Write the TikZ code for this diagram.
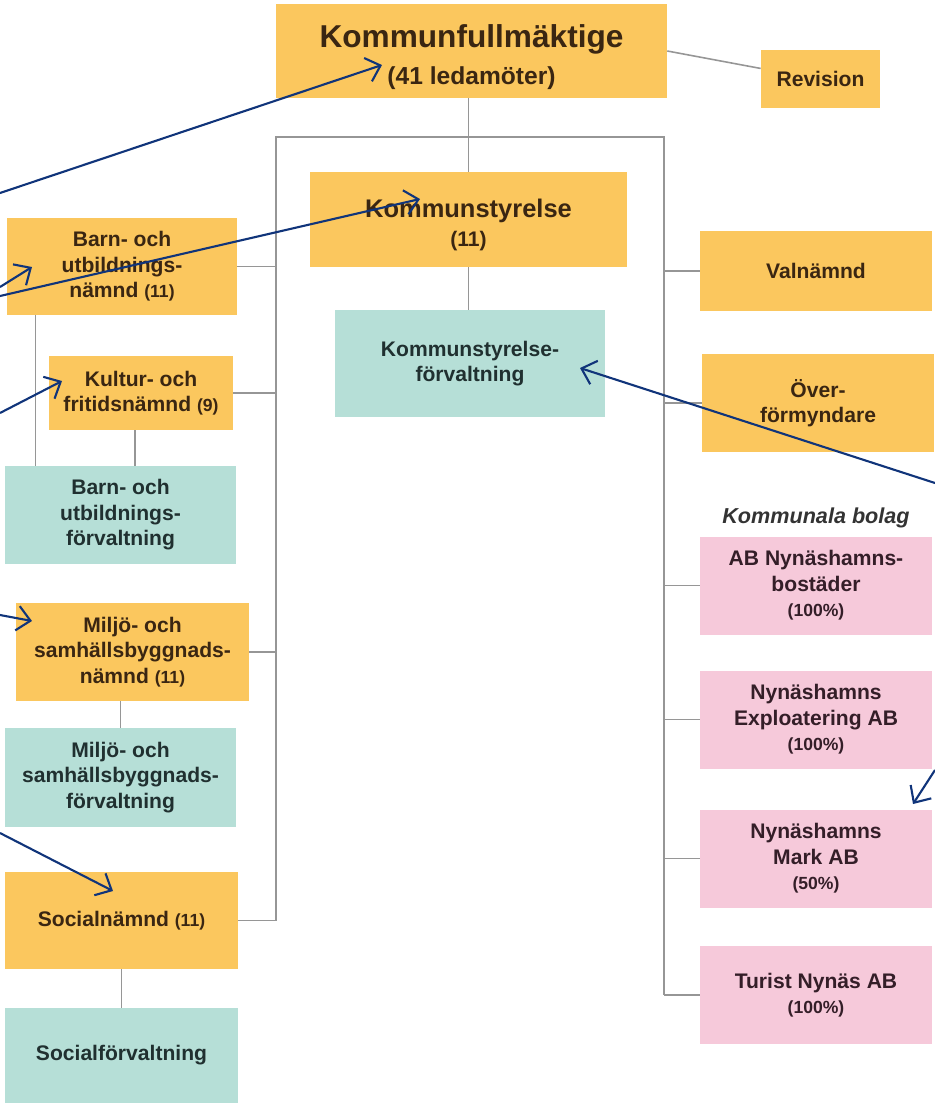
\documentclass[tikz,border=0pt]{standalone}
\usepackage{fontspec}
\setmainfont{Liberation Sans}
\usetikzlibrary{arrows.meta}
\usetikzlibrary{calc}

\definecolor{orgbox}{RGB}{251,199,94}
\definecolor{tealbox}{RGB}{182,223,215}
\definecolor{pinkbox}{RGB}{246,201,218}
\definecolor{orgtext}{RGB}{58,38,18}
\definecolor{tealtext}{RGB}{32,48,48}
\definecolor{pinktext}{RGB}{52,30,40}
\definecolor{linegray}{RGB}{150,150,150}
\definecolor{navy}{RGB}{16,52,122}

\newcommand{\antal}[1]{{\fontsize{10}{12}\selectfont(#1)}}

\begin{document}
\begin{tikzpicture}[x=0.02cm,y=-0.02cm,
        box/.style={inner sep=0pt,align=center,font=\fontsize{12}{14.5}\selectfont\bfseries},
        namnd/.style={box,fill=orgbox,text=orgtext},
        forv/.style={box,fill=tealbox,text=tealtext},
        bolag/.style={box,fill=pinkbox,text=pinktext,minimum width=4.64cm,minimum height=1.96cm},
        orgline/.style={draw=linegray,line width=0.9pt},
        pil/.style={draw=navy,line width=1.2pt,-{Straight Barb[length=7.5pt,width=14pt]}}]
                \useasboundingbox (0,0) rectangle (935,1103);

                \node[namnd,minimum width=7.82cm,minimum height=1.88cm] (kf) at (471.5,51)
                    {\rule{0pt}{20pt}{\fontsize{18}{22}\selectfont Kommunfullmäktige}\\[7pt]{\fontsize{14}{17}\selectfont (41 ledamöter)}};
                \node[namnd,minimum width=2.38cm,minimum height=1.16cm] (rev) at (820.5,79) {Revision};

                \node[namnd,minimum width=6.34cm,minimum height=1.9cm] (ks) at (468.5,219.5)
                    {\rule{0pt}{17pt}{\fontsize{14.5}{17}\selectfont Kommunstyrelse}\\[2pt]{\fontsize{12}{14}\selectfont (11)}};
                \node[forv,minimum width=5.4cm,minimum height=2.14cm] (ksf) at (470,363.5) {Kommunstyrelse-\\förvaltning};

                \node[namnd,minimum width=4.64cm,minimum height=1.6cm] (val) at (816,271) {Valnämnd};
                \node[namnd,minimum width=4.64cm,minimum height=1.98cm] (overf) at (818,403) {Över-\\förmyndare};

                \node[font=\fontsize{12.3}{14}\selectfont\bfseries\itshape,text=black!80] (bolagrubrik) at (816,518) {Kommunala bolag};
                \node[bolag] (abnb) at (816,585.5) {AB Nynäshamns-\\bostäder\\\antal{100\%}};
                \node[bolag] (expl) at (816,719.5) {Nynäshamns\\Exploatering AB\\\antal{100\%}};
                \node[bolag] (mark) at (816,858.5) {Nynäshamns\\Mark AB\\\antal{50\%}};
                \node[bolag] (turist) at (816,995) {Turist Nynäs AB\\\antal{100\%}};

                \node[namnd,minimum width=4.6cm,minimum height=1.94cm] (bun) at (122,266.5) {Barn- och\\utbildnings-\\nämnd \antal{11}};
                \node[namnd,minimum width=3.68cm,minimum height=1.48cm] (kfn) at (141,393) {Kultur- och\\fritidsnämnd \antal{9}};
                \node[forv,minimum width=4.62cm,minimum height=1.96cm] (buf) at (120.5,515) {Barn- och\\utbildnings-\\förvaltning};
                \node[namnd,minimum width=4.66cm,minimum height=1.96cm] (msn) at (132.5,652) {Miljö- och\\samhällsbyggnads-\\nämnd \antal{11}};
                \node[forv,minimum width=4.62cm,minimum height=1.98cm] (msf) at (120.5,777.5) {Miljö- och\\samhällsbyggnads-\\förvaltning};
                \node[namnd,minimum width=4.66cm,minimum height=1.94cm] (sn) at (121.5,920.5) {Socialnämnd \antal{11}};
                \node[forv,minimum width=4.66cm,minimum height=1.9cm] (sf) at (121.5,1055.5) {Socialförvaltning};

                \coordinate (busL) at (276,137);
                \coordinate (busR) at (664,137);

                \draw[orgline] (kf.east) -- (rev.170);
                \draw[orgline] (kf.south -| ks.north) -- (ks.north);
                \draw[orgline] (ks.south) -- (ks.south |- ksf.north);
                \draw[orgline] (busL |- sn.east) -- (busL) -- (busR) -- (busR |- turist.west);
                \foreach \n in {bun,kfn,msn,sn}
                    \draw[orgline] (\n.east) -- (\n.east -| busL);
                \foreach \n in {val,overf,abnb,expl,mark,turist}
                    \draw[orgline] (\n.west) -- (\n.west -| busR);
                \draw[orgline] ([xshift=0.58cm]bun.south west) -- ([xshift=0.58cm]bun.south west |- buf.north);
                \draw[orgline] ([xshift=-0.12cm]kfn.south) -- ([xshift=-0.12cm]kfn.south |- buf.north);
                \draw[orgline] (msf.north |- msn.south) -- (msf.north);
                \draw[orgline] (sn.south) -- (sf.north);

                \coordinate (in1) at (0,193);
                \coordinate (in2) at (0,296);
                \coordinate (in3) at (0,287);
                \coordinate (in4) at (0,413);
                \coordinate (in5) at (0,615);
                \coordinate (in6) at (0,833);
                \coordinate (in7) at (935,483);
                \coordinate (in8) at (935,770);

                \draw[pil] (in1) -- ($(kf.center)+(-89.5,14)$);
                \draw[pil] (in2) -- ($(ks.center)+(-48.5,-20.5)$);
                \draw[pil] (in3) -- ($(bun.center)+(-90,0.5)$);
                \draw[pil] (in4) -- ($(kfn.center)+(-79,-12)$);
                \draw[pil] (in5) -- ($(msn.center)+(-100.5,-31)$);
                \draw[pil] (in6) -- ($(sn.center)+(-8.5,-29.5)$);
                \draw[pil] (in7) -- ($(ksf.center)+(110,4.5)$);
                \draw[pil] (in8) -- ($(mark.center)+(97,-54.5)$);
            \end{tikzpicture}
\end{document}
